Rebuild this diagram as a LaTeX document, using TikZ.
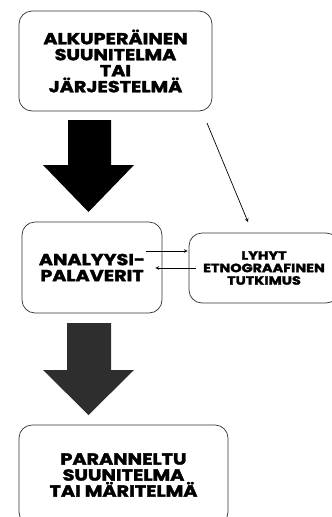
\documentclass[tikz,border=0pt]{standalone}
\usepackage{fontspec}
\setmainfont{Poppins}[BoldFeatures={FakeBold=2.2, FakeStretch=1.2}]
\usepackage{tikz}
\usetikzlibrary{calc}
\usetikzlibrary{arrows}
\tikzstyle{stagebox} = [rectangle,
rounded corners=13pt,
text centered,
align=center,
draw=black!80,
line width=0.7pt,
fill=white,
font=\bfseries\fontsize{16}{16}\selectfont]
\tikzstyle{smallbox} = [stagebox, font=\bfseries\fontsize{12}{12.5}\selectfont]
\tikzstyle{arrow} = [line width=0.7pt,->,>=stealth]

\begin{document}
\begin{tikzpicture}[x=1pt, y=-1pt]
    \useasboundingbox (0,0) rectangle (332,517);

    \node (orig) [stagebox, minimum width=193pt, minimum height=100pt] at (115.5,61)
        {ALKUPERÄINEN\\SUUNITELMA\\TAI\\JÄRJESTELMÄ};
    \node (meet) [stagebox, minimum width=140pt, minimum height=91pt] at (92,267.5)
        {ANALYYSI-\\PALAVERIT};
    \node (etno) [smallbox, minimum width=150pt, minimum height=70pt] at (264,268)
        {LYHYT\\ETNOGRAAFINEN\\TUTKIMUS};
    \node (better) [stagebox, minimum width=209pt, minimum height=100pt] at (123.5,475)
        {PARANNELTU\\SUUNITELMA\\TAI MÄRITELMÄ};

    % Big arrows
    \fill [black] (68,120) -- (111,120) -- (111,165) -- (134,165) -- (88.5,212)
        -- (43,165) -- (68,165) -- cycle;
    \fill [black!82] (67,323) -- (111,323) -- (111,370) -- (134,370) -- (88.5,415)
        -- (43,370) -- (67,370) -- cycle;

    % Thin arrows
    \coordinate (d1) at (207,123);
    \coordinate (d2) at (248,222);
    \draw [arrow] (d1) -- (d2);
    \draw [arrow] ($(meet.east)+(-16,-16.5)$) -- ($(etno.west)+(-1,-17)$);
    \draw [arrow] ($(etno.west)+(7,0)$) -- ($(meet.east)+(-7,0.5)$);
\end{tikzpicture}
\end{document}
